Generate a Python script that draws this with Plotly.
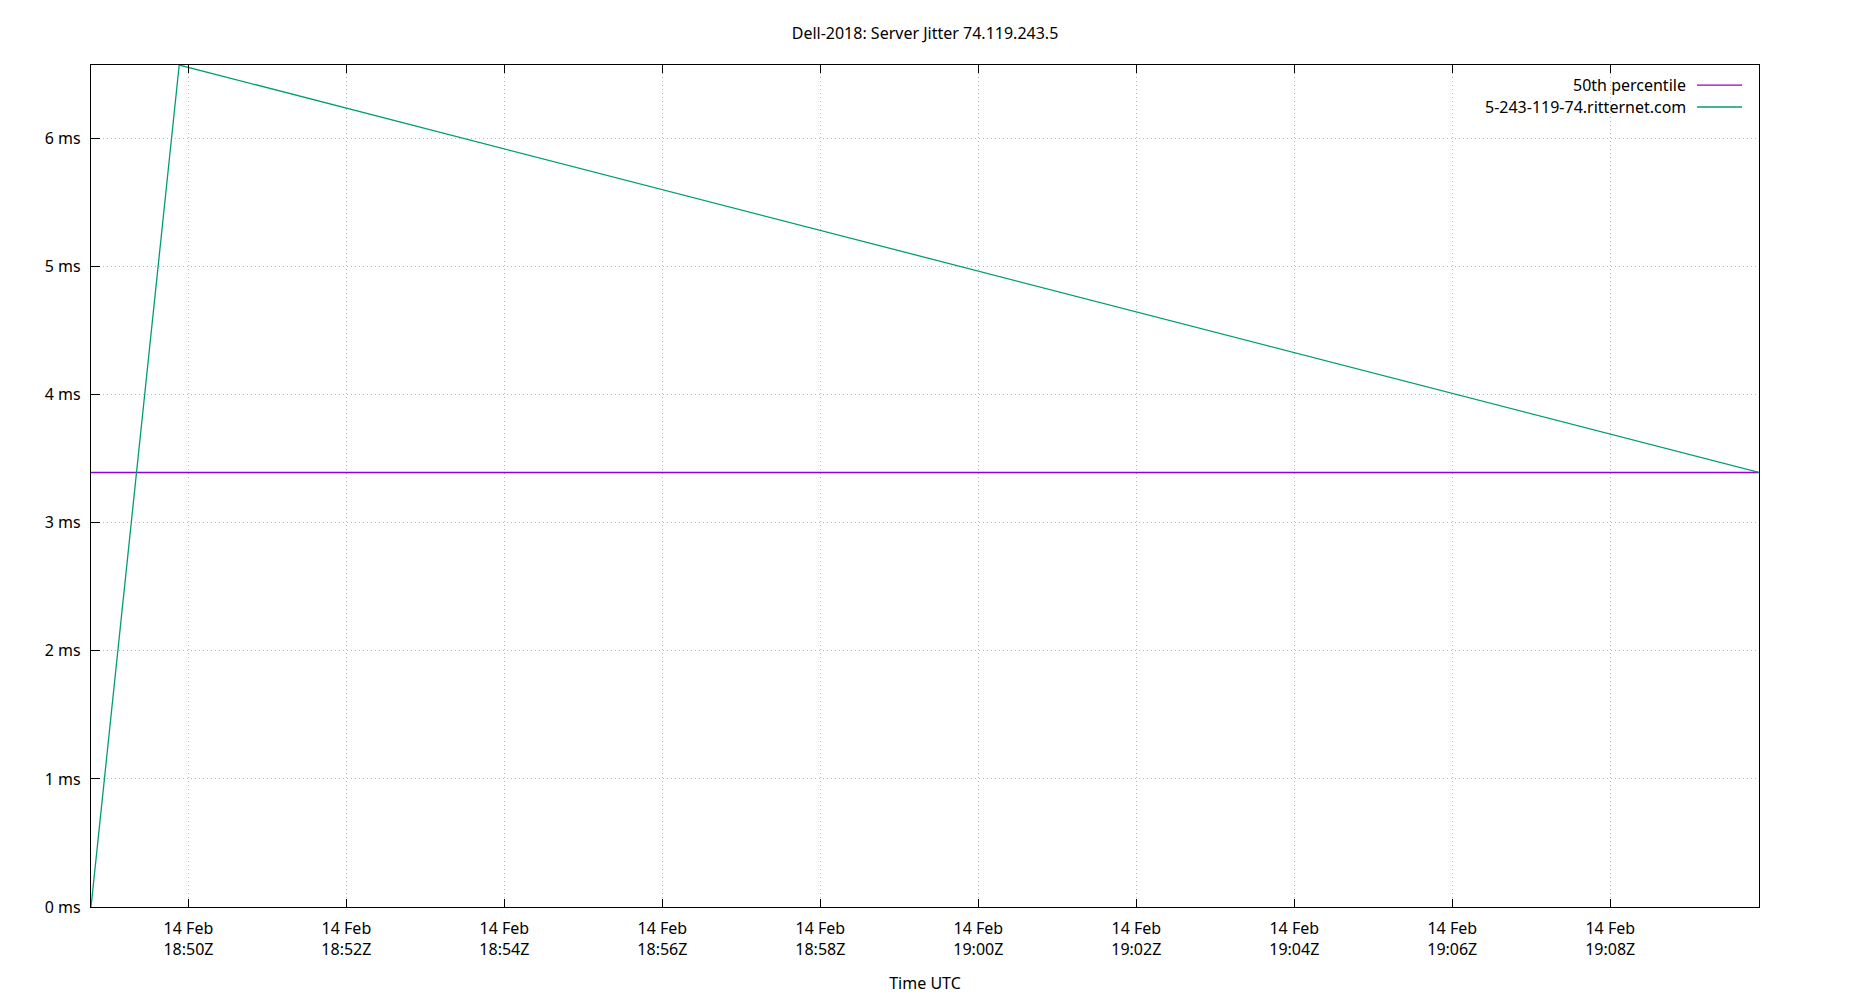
import plotly.graph_objects as go

# Data
times = ["2023-02-14 18:48:46", "2023-02-14 18:49:53", "2023-02-14 19:09:53"]
jitter_ms = [0.0, 6.573, 3.392]
median_ms = [3.392, 3.392, 3.392]
series_names = ["50th percentile", "5-243-119-74.ritternet.com"]
series_colors = ["#9400D3", "#009E73"]

FONT = "Noto Sans"
OFF = 8  # browser body margin
W, H = 1842, 992
L = 90.5 - OFF
T = 65.3 - OFF
R = W - (1759 - OFF)
B = H - (907 - OFF)

pw = W - L - R
ph = H - T - B


def px_to_paper_x(px):
    return (px - OFF - L) / pw


def px_to_paper_y(py):
    return 1 - (py - OFF - T) / ph


fig = go.Figure()
fig.add_trace(go.Scatter(x=times, y=median_ms, mode="lines", name=series_names[0],
                         line=dict(color=series_colors[0], width=1.3), showlegend=False))
fig.add_trace(go.Scatter(x=times, y=jitter_ms, mode="lines", name=series_names[1],
                         line=dict(color=series_colors[1], width=1.3), showlegend=False))

# gnuplot-style legend (text right-aligned, sample line to the right)
rows_y = [85.5, 107.3]
for name, color, yy in zip(series_names, series_colors, rows_y):
    fig.add_annotation(x=px_to_paper_x(1688), y=px_to_paper_y(yy), xref="paper", yref="paper",
                       text=name, showarrow=False, xanchor="right", yanchor="middle",
                       font=dict(family=FONT, size=16, color="black"))
    fig.add_shape(type="line", xref="paper", yref="paper",
                  x0=px_to_paper_x(1697), x1=px_to_paper_x(1742),
                  y0=px_to_paper_y(yy), y1=px_to_paper_y(yy),
                  line=dict(color=color, width=1.3))

fig.update_layout(
    width=W, height=H,
    margin=dict(l=L, r=R, t=T, b=B, pad=0),
    paper_bgcolor="white", plot_bgcolor="white",
    font=dict(family=FONT, size=16, color="black"),
    title=dict(text="Dell-2018: Server Jitter 74.119.243.5", x=0.5, xanchor="center",
               xref="paper", y=1 - (33 - OFF) / H, yanchor="middle",
               font=dict(family=FONT, size=16, color="black")),
    showlegend=False,
)
fig.update_xaxes(
    type="date", range=[times[0], times[-1]],
    dtick=120000, tick0="2023-02-14 18:50:00",
    tickformat="%d %b<br>%H:%MZ",
    ticks="inside", ticklen=8, tickwidth=1, tickcolor="black",
    showline=True, linecolor="black", linewidth=1.3, mirror="ticks",
    showgrid=True, gridcolor="#b8b8b8", griddash="1px,3px", gridwidth=1,
    zeroline=False, ticklabelstandoff=7,
    title=dict(text="Time UTC", standoff=18, font=dict(family=FONT, size=16)),
    tickfont=dict(family=FONT, size=16),
)
fig.update_yaxes(
    range=[0, 6.573], dtick=1, tick0=0, ticksuffix=" ms",
    ticks="inside", ticklen=9, tickwidth=1, tickcolor="black",
    showline=True, linecolor="black", linewidth=1.3, mirror=True,
    showgrid=True, gridcolor="#b8b8b8", griddash="1px,3px", gridwidth=1,
    zeroline=False, ticklabelstandoff=6,
    tickfont=dict(family=FONT, size=16),
)

fig.write_html("out.html")
